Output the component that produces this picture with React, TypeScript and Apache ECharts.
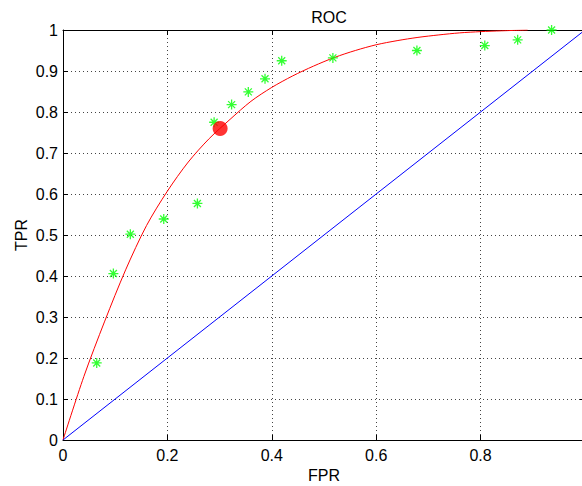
import React, { useEffect, useRef } from "react";
import * as echarts from "echarts";

// Fitted ROC curve (red) at regular FPR steps
const curveFPR = [0, 0.04, 0.08, 0.12, 0.16, 0.2, 0.24, 0.28, 0.32, 0.36, 0.4, 0.44, 0.48, 0.52, 0.56, 0.6, 0.64, 0.68, 0.72, 0.76, 0.8, 0.84, 0.89];
const curveTPR = [0, 0.155, 0.29, 0.415, 0.523, 0.607, 0.678, 0.735, 0.782, 0.826, 0.86, 0.888, 0.912, 0.933, 0.95, 0.964, 0.974, 0.982, 0.988, 0.993, 0.996, 0.998, 1.0];

// Empirical ROC points (green asterisks)
const pointFPR = [0.0646, 0.0965, 0.129, 0.193, 0.2575, 0.2895, 0.323, 0.355, 0.387, 0.419, 0.517, 0.678, 0.808, 0.871, 0.936];
const pointTPR = [0.188, 0.406, 0.502, 0.539, 0.577, 0.775, 0.818, 0.849, 0.881, 0.925, 0.932, 0.95, 0.962, 0.976, 1.0];

// Operating point (red dot)
const opFPR = [0.301];
const opTPR = [0.76];

// Chance diagonal (blue)
const diagFPR = [0, 1];
const diagTPR = [0, 1];

const FONT = "'Liberation Sans', Arial, Helvetica, sans-serif";
const STAR = "path://M5,0L5,10M0,5L10,5M1.5,1.5L8.5,8.5M1.5,8.5L8.5,1.5";

const zip = (xs: number[], ys: number[]) => xs.map((x, i) => [x, ys[i]]);
const fmt = (v: number) => String(Math.round(v * 10) / 10);
// the x = 1 label falls outside the visible page in the reference
const fmtX = (v: number) => (v >= 1 ? "" : fmt(v));

export default function App() {
  const ref = useRef<HTMLDivElement>(null);
  useEffect(() => {
    document.body.style.margin = "0";
    const chart = echarts.init(ref.current!, null, { renderer: "svg" });
    const tickStyle = { show: true, inside: true, length: 5, lineStyle: { color: "#000", width: 1 } };
    const split = { show: true, lineStyle: { color: "#444", type: [1, 3] as any, width: 1 } };
    chart.setOption({
      animation: false,
      backgroundColor: "#fff",
      textStyle: { fontFamily: FONT },
      title: {
        text: "ROC",
        left: 324,
        top: 4,
        textAlign: "center",
        textStyle: { fontFamily: FONT, fontSize: 16, fontWeight: "normal", color: "#000" },
      },
      grid: { left: 63, top: 30, width: 522, height: 410, show: false, outerBoundsMode: "none", containLabel: false },
      xAxis: [
        {
          type: "value",
          min: 0,
          max: 1,
          interval: 0.2,
          position: "bottom",
          name: "FPR",
          nameLocation: "middle",
          nameGap: 26,
          nameTextStyle: { fontFamily: FONT, fontSize: 16, color: "#000" },
          axisLine: { show: true, onZero: false, lineStyle: { color: "#000", width: 1 } },
          axisTick: tickStyle,
          axisLabel: { fontFamily: FONT, fontSize: 16, color: "#000", margin: 7, formatter: fmtX },
          splitLine: split,
        },
        {
          type: "value",
          min: 0,
          max: 1,
          interval: 0.2,
          position: "top",
          axisLine: { show: true, onZero: false, lineStyle: { color: "#000", width: 1 } },
          axisTick: tickStyle,
          axisLabel: { show: false },
          splitLine: { show: false },
        },
      ],
      yAxis: [
        {
          type: "value",
          min: 0,
          max: 1,
          interval: 0.1,
          position: "left",
          name: "TPR",
          nameLocation: "middle",
          nameGap: 34,
          nameMoveOverlap: false,
          nameTextStyle: { fontFamily: FONT, fontSize: 16, color: "#000" },
          axisLine: { show: true, onZero: false, lineStyle: { color: "#000", width: 1 } },
          axisTick: tickStyle,
          axisLabel: { fontFamily: FONT, fontSize: 16, color: "#000", margin: 5, formatter: fmt },
          splitLine: split,
        },
        {
          type: "value",
          min: 0,
          max: 1,
          interval: 0.1,
          position: "right",
          axisLine: { show: true, onZero: false, lineStyle: { color: "#000", width: 1 } },
          axisTick: tickStyle,
          axisLabel: { show: false },
          splitLine: { show: false },
        },
      ],
      series: [
        {
          name: "fit",
          type: "line",
          data: zip(curveFPR, curveTPR),
          smooth: 0.3,
          showSymbol: false,
          lineStyle: { color: "#ff0000", width: 1 },
          z: 3,
        },
        {
          name: "empirical",
          type: "scatter",
          data: zip(pointFPR, pointTPR),
          symbol: STAR,
          symbolSize: 10,
          itemStyle: { color: "#00ff00", borderColor: "#00ff00", borderWidth: 1.3 },
          z: 4,
        },
        {
          name: "chance",
          type: "line",
          data: zip(diagFPR, diagTPR),
          showSymbol: false,
          lineStyle: { color: "#0000ff", width: 1 },
          z: 3,
        },
        {
          name: "operating point",
          type: "scatter",
          data: zip(opFPR, opTPR),
          symbol: "circle",
          symbolSize: 15,
          itemStyle: { color: "#ff0000" },
          z: 5,
        },
      ],
    });
    return () => chart.dispose();
  }, []);
  return <div ref={ref} style={{ width: 582, height: 486 }} />;
}
